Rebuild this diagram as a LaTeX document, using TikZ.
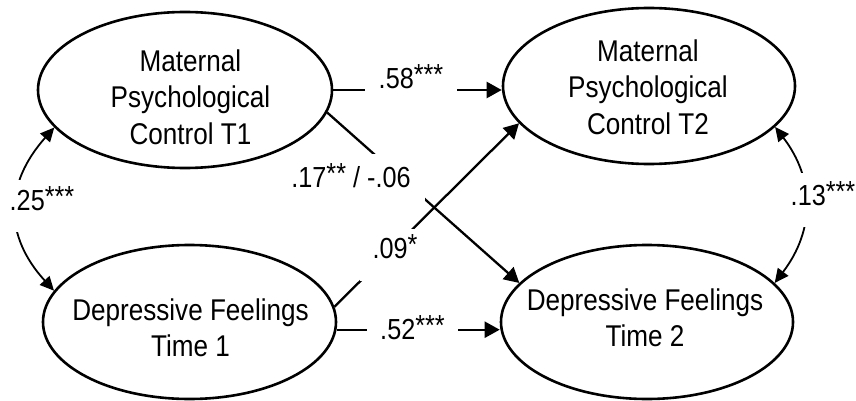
\documentclass[tikz,border=0pt]{standalone}
\usepackage{fontspec}
\setmainfont{Liberation Sans}[FakeStretch=0.87]
\usetikzlibrary{shapes.geometric,arrows.meta}
\newcommand\myellfont{\fontsize{30}{36.5}\selectfont}
\newcommand\mycoeffont{\fontsize{29}{34}\selectfont}
\newcommand\mystars[1]{\raisebox{4pt}{#1}}
\begin{document}
\begin{tikzpicture}[x=1pt,y=-1pt,
  latent/.style={draw, ellipse, line width=2.6pt, inner sep=0pt},
  lab/.style={font=\myellfont, align=center, inner sep=0pt},
  path/.style={line width=2.3pt, -{Triangle[length=15pt,width=16pt]}},
  cov/.style={line width=1.8pt, {Triangle[length=14pt,width=13pt]}-{Triangle[length=14pt,width=13pt]}},
  coef/.style={fill=white, inner sep=0pt, font=\mycoeffont, text height=20.8pt, anchor=center}]
\useasboundingbox (0,0) rectangle (856,401);

% latent variables
\node[latent, minimum width=294pt, minimum height=156pt,
  label={[lab, xshift=5.5pt, yshift=-7pt]center:{Maternal\\Psychological\\Control T1}}] (mpc1) at (185,90) {};
\node[latent, minimum width=293pt, minimum height=154pt,
  label={[lab, xshift=1pt, yshift=-5.75pt]center:{Depressive Feelings\\Time 1}}] (dft1) at (189.5,322) {};
\node[latent, minimum width=292pt, minimum height=156pt,
  label={[lab, xshift=-1pt, yshift=-1pt]center:{Maternal\\Psychological\\Control T2}}] (mpc2) at (649,86) {};
\node[latent, minimum width=292pt, minimum height=154pt,
  label={[lab, xshift=-2pt, yshift=4.25pt]center:{Depressive Feelings\\Time 2}}] (dft2) at (647,322) {};

% paths
\draw[path] (mpc1.east) -- (mpc1.east -| mpc2.west);
\draw[path] (dft1.-3) -- (dft1.-3 -| dft2.west);
\draw[path] (mpc1.-9) -- (dft2.163);
\draw[path] (dft1.6) -- (mpc2.-164.6);

% covariances
\draw[cov] (mpc1.-164) .. controls (4,184) and (4,236) .. (dft1.167.6);
\draw[cov] (mpc2.-18.3) .. controls (815,179) and (815,230) .. (dft2.17.7);

% coefficients
\node[coef, minimum width=92pt, minimum height=32pt, text depth=0pt] (c58) at (411,78) {.58\mystars{***}};
\node[coef, minimum width=91pt, minimum height=32pt, text depth=0pt] (c52) at (412.5,329) {.52\mystars{***}};
\node[coef, minimum width=148pt, minimum height=47pt, text depth=0pt] (c17) at (351,177.5) {.17\mystars{**} / -.06};
\node[coef, minimum width=70pt, minimum height=52pt, text depth=13pt] (c09) at (395,255) {.09\mystars{*}};
\node[coef, minimum width=66pt, minimum height=52pt, text depth=12pt] (c25) at (42,206) {.25\mystars{***}};
\node[coef, minimum width=66pt, minimum height=54pt, text depth=10pt] (c13) at (823,200) {.13\mystars{***}};
\end{tikzpicture}
\end{document}
